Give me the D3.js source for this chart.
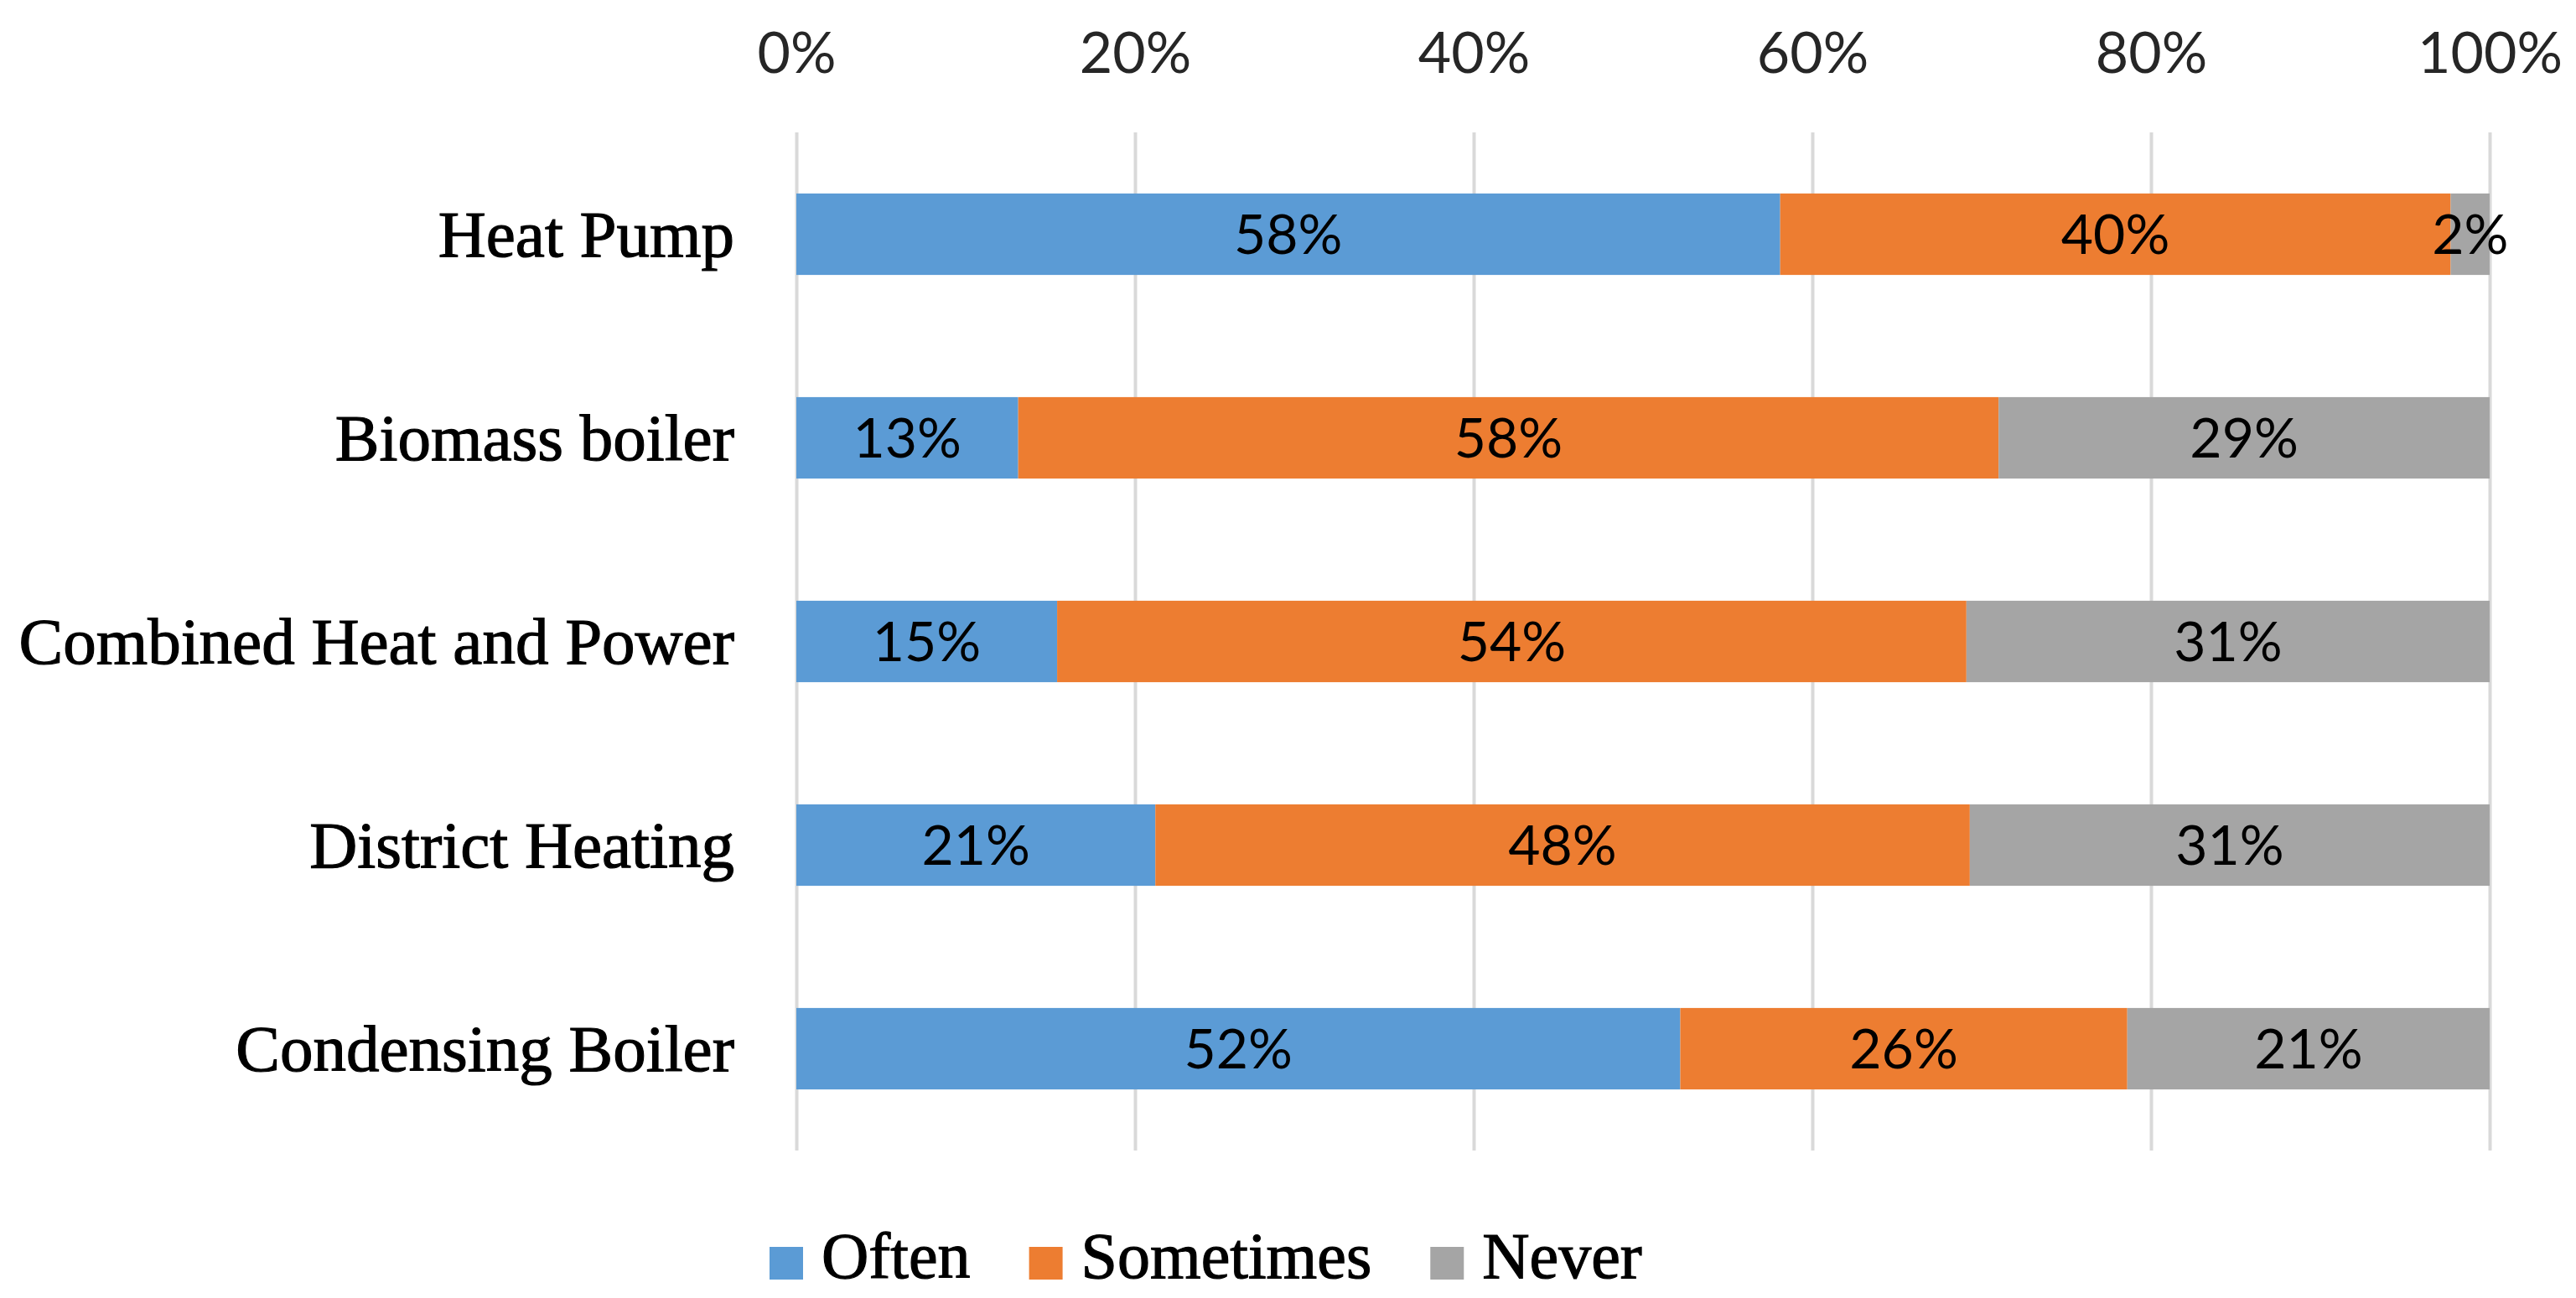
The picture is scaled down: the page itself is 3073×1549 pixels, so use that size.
<!DOCTYPE html>
<html>
<head>
<meta charset="utf-8">
<script src="https://cdn.jsdelivr.net/npm/d3@7"></script>
<style>
  body { margin: 0; background: #fff; }
  svg { display: block; }
</style>
</head>
<body>
<svg id="chart" width="3073" height="1549"></svg>
<script>
// DATA
const categories = ["Heat Pump", "Biomass boiler", "Combined Heat and Power", "District Heating", "Condensing Boiler"];
const seriesNames = ["Often", "Sometimes", "Never"];
const often = [58.1, 13.1, 15.4, 21.2, 52.2];
const sometimes = [39.6, 57.9, 53.7, 48.1, 26.4];
const never = [2.3, 29.0, 30.9, 30.7, 21.4];
const xTicks = [0, 0.2, 0.4, 0.6, 0.8, 1];

const COLORS = ["#5B9BD5", "#ED7D31", "#A5A5A5"];
const SERIF = "'Liberation Serif', 'Times New Roman', serif";
const SANS = "Lato, 'Open Sans', sans-serif";

const SVG = d3.select("#chart");
const TOP = 158, BOTTOM = 1373, LEFT = 950, RIGHT = 2970;

const rows = categories.map((c, i) => ({ cat: c, Often: often[i], Sometimes: sometimes[i], Never: never[i] }));
const stacked = d3.stack().keys(seriesNames).offset(d3.stackOffsetExpand)(rows);

// SCALES
const X = d3.scaleLinear().domain([0, 1]).range([LEFT, RIGHT]);
const Y = d3.scaleBand().domain(categories).range([TOP, BOTTOM]).paddingInner(0.6).paddingOuter(0.3);

// X AXIS + GRID
const X_AXIS_G = SVG.append("g").attr("transform", `translate(0,${TOP})`);
X_AXIS_G.call(
  d3.axisTop(X)
    .tickValues(xTicks)
    .tickFormat(d3.format(".0%"))
    .tickSizeInner(-(BOTTOM - TOP))
    .tickSizeOuter(0)
    .tickPadding(71)
);
X_AXIS_G.select(".domain").remove();
X_AXIS_G.selectAll(".tick line").attr("stroke", "#D9D9D9").attr("stroke-width", 4);
X_AXIS_G.selectAll(".tick text")
  .style("font-family", SANS)
  .style("font-size", "68px")
  .attr("fill", "#262626");

// Y AXIS LABELS
const Y_AXIS_G = SVG.append("g").attr("transform", `translate(${LEFT},0)`);
Y_AXIS_G.call(d3.axisLeft(Y).tickSize(0).tickPadding(74));
Y_AXIS_G.select(".domain").remove();
Y_AXIS_G.selectAll(".tick text")
  .attr("dy", "0.34em")
  .style("font-family", SERIF)
  .style("font-size", "79px")
  .attr("fill", "#000")
  .attr("stroke", "#000")
  .attr("stroke-width", 1.2);

// BARS
const LAYER_G = SVG.append("g")
  .selectAll("g")
  .data(stacked)
  .join("g")
  .attr("fill", (d, i) => COLORS[i]);

LAYER_G.selectAll("rect")
  .data((d) => d)
  .join("rect")
  .attr("x", (d) => X(d[0]))
  .attr("y", (d) => Y(d.data.cat))
  .attr("width", (d) => X(d[1]) - X(d[0]))
  .attr("height", Y.bandwidth());

// DATA LABELS
const LABEL_G = SVG.append("g");
stacked.forEach((layer) => {
  layer.forEach((d) => {
    LABEL_G.append("text")
      .attr("x", X((d[0] + d[1]) / 2))
      .attr("y", Y(d.data.cat) + Y.bandwidth() / 2)
      .attr("dy", "0.36em")
      .attr("text-anchor", "middle")
      .style("font-family", SANS)
      .style("font-size", "66px")
      .attr("fill", "#000")
      .text(Math.round(d.data[layer.key]) + "%");
  });
});

// LEGEND
const LEGEND_G = SVG.append("g").attr("transform", "translate(918,1488)");
let legendX = 0;
seriesNames.forEach((name, i) => {
  const item = LEGEND_G.append("g").attr("transform", `translate(${legendX},0)`);
  item.append("rect").attr("width", 40).attr("height", 39).attr("fill", COLORS[i]);
  const t = item.append("text")
    .attr("x", 62)
    .attr("y", 37)
    .style("font-family", SERIF)
    .style("font-size", "78px")
    .attr("fill", "#000")
    .attr("stroke", "#000")
    .attr("stroke-width", 1.2)
    .text(name);
  legendX += 62 + t.node().getComputedTextLength() + 70;
});
</script>
</body>
</html>
